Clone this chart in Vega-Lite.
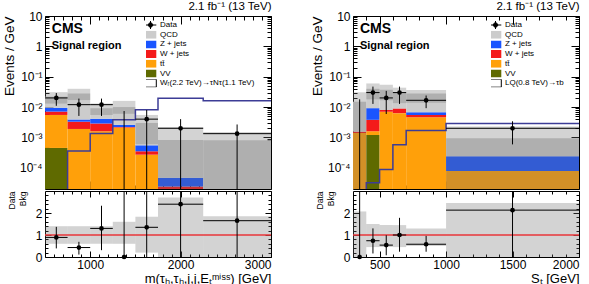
{
  "$schema": "https://vega.github.io/schema/vega-lite/v6.json",
  "padding": {"left": 1, "top": 0, "right": 0, "bottom": 0},
  "background": "white",
  "config": {
    "font": "Liberation Sans",
    "view": {"stroke": "black", "strokeWidth": 1},
    "axis": {"domain": false, "grid": false, "tickColor": "black", "tickSize": -8, "tickWidth": 1, "labelColor": "black", "labelFontSize": 12, "titleColor": "black", "titleFontWeight": "normal", "titleFontSize": 13, "labelPadding": 11},
    "title": {"color": "black", "fontWeight": "normal"}
  },
  "datasets": {
    "stackL": [
      {"x0": 500, "x1": 750, "proc": "VV", "lo": 1e-6, "hi": 4.5e-4},
      {"x0": 500, "x1": 750, "proc": "tt̄", "lo": 4.5e-4, "hi": 5.5e-3},
      {"x0": 500, "x1": 750, "proc": "W + jets", "lo": 5.5e-3, "hi": 7.1e-3},
      {"x0": 500, "x1": 750, "proc": "Z + jets", "lo": 7.1e-3, "hi": 9.5e-3},
      {"x0": 500, "x1": 750, "proc": "QCD", "lo": 9.5e-3, "hi": 2.2e-2},
      {"x0": 750, "x1": 1000, "proc": "tt̄", "lo": 1e-6, "hi": 1.9e-3},
      {"x0": 750, "x1": 1000, "proc": "W + jets", "lo": 1.9e-3, "hi": 3.3e-3},
      {"x0": 750, "x1": 1000, "proc": "Z + jets", "lo": 3.3e-3, "hi": 3.9e-3},
      {"x0": 750, "x1": 1000, "proc": "QCD", "lo": 3.9e-3, "hi": 2.8e-2},
      {"x0": 1000, "x1": 1250, "proc": "tt̄", "lo": 1e-6, "hi": 1.6e-3},
      {"x0": 1000, "x1": 1250, "proc": "W + jets", "lo": 1.6e-3, "hi": 2.9e-3},
      {"x0": 1000, "x1": 1250, "proc": "Z + jets", "lo": 2.9e-3, "hi": 4.1e-3},
      {"x0": 1000, "x1": 1250, "proc": "QCD", "lo": 4.1e-3, "hi": 9.2e-3},
      {"x0": 1250, "x1": 1500, "proc": "tt̄", "lo": 1e-6, "hi": 2.1e-3},
      {"x0": 1250, "x1": 1500, "proc": "W + jets", "lo": 2.1e-3, "hi": 2.2e-3},
      {"x0": 1250, "x1": 1500, "proc": "Z + jets", "lo": 2.2e-3, "hi": 2.6e-3},
      {"x0": 1250, "x1": 1500, "proc": "QCD", "lo": 2.6e-3, "hi": 1e-2},
      {"x0": 1500, "x1": 1750, "proc": "tt̄", "lo": 1e-6, "hi": 2.7e-4},
      {"x0": 1500, "x1": 1750, "proc": "W + jets", "lo": 2.7e-4, "hi": 3.5e-4},
      {"x0": 1500, "x1": 1750, "proc": "Z + jets", "lo": 3.5e-4, "hi": 5.5e-4},
      {"x0": 1500, "x1": 1750, "proc": "QCD", "lo": 5.5e-4, "hi": 3e-3},
      {"x0": 1750, "x1": 2250, "proc": "W + jets", "lo": 1e-6, "hi": 2.4e-5},
      {"x0": 1750, "x1": 2250, "proc": "Z + jets", "lo": 2.4e-5, "hi": 4.7e-5},
      {"x0": 1750, "x1": 2250, "proc": "QCD", "lo": 4.7e-5, "hi": 8.2e-4},
      {"x0": 2250, "x1": 3000, "proc": "QCD", "lo": 1e-6, "hi": 8e-4}
    ],
    "bandL": [
      {"x0": 500, "x1": 750, "lo": 1.3e-2, "hi": 3.1e-2},
      {"x0": 750, "x1": 1000, "lo": 1.7e-2, "hi": 4e-2},
      {"x0": 1000, "x1": 1250, "lo": 5.5e-3, "hi": 1.3e-2},
      {"x0": 1250, "x1": 1500, "lo": 6e-3, "hi": 1.6e-2},
      {"x0": 1500, "x1": 1750, "lo": 6e-4, "hi": 5.5e-3},
      {"x0": 1750, "x1": 2250, "lo": 1e-6, "hi": 2.2e-3},
      {"x0": 2250, "x1": 3000, "lo": 1e-6, "hi": 1.5e-3}
    ],
    "sigL": [
      {"x": 500, "y": 1e-6}, {"x": 750, "y": 3.6e-4}, {"x": 1000, "y": 1.35e-3},
      {"x": 1250, "y": 3.8e-3}, {"x": 1500, "y": 8.1e-3}, {"x": 1750, "y": 1.95e-2},
      {"x": 2250, "y": 1.6e-2}, {"x": 3000, "y": 1.6e-2}
    ],
    "dataL": [
      {"x": 625, "x0": 500, "x1": 750, "y": 0.02, "lo": 0.011, "hi": 0.029},
      {"x": 875, "x0": 750, "x1": 1000, "y": 0.012, "lo": 0.0051, "hi": 0.019},
      {"x": 1125, "x0": 1000, "x1": 1250, "y": 0.012, "lo": 0.0051, "hi": 0.019},
      {"x": 1375, "x0": null, "x1": null, "y": null, "lo": 1e-6, "hi": 0.0074},
      {"x": 1625, "x0": 1500, "x1": 1750, "y": 0.004, "lo": 1e-6, "hi": 0.008},
      {"x": 2000, "x0": 1750, "x1": 2250, "y": 0.002, "lo": 1e-6, "hi": 0.004},
      {"x": 2625, "x0": 2250, "x1": 3000, "y": 0.00133, "lo": 1e-6, "hi": 0.00267}
    ],
    "ratioL": [
      {"x": 625, "x0": 500, "x1": 750, "r": 0.89, "lo": 0.39, "hi": 1.37},
      {"x": 875, "x0": 750, "x1": 1000, "r": 0.43, "lo": 0.11, "hi": 0.69},
      {"x": 1125, "x0": 1000, "x1": 1250, "r": 1.3, "lo": 0.31, "hi": 2.33},
      {"x": 1375, "x0": null, "x1": null, "r": 0, "lo": 0, "hi": 3.5},
      {"x": 1625, "x0": 1500, "x1": 1750, "r": 1.35, "lo": 0, "hi": 3.5},
      {"x": 2000, "x0": 1750, "x1": 2250, "r": 2.4, "lo": 0, "hi": 3.5},
      {"x": 2625, "x0": 2250, "x1": 3000, "r": 1.65, "lo": 0, "hi": 3.5}
    ],
    "rbandL": [
      {"x0": 500, "x1": 750, "lo": 0.6, "hi": 1.4},
      {"x0": 750, "x1": 1000, "lo": 0.6, "hi": 1.4},
      {"x0": 1000, "x1": 1250, "lo": 0.6, "hi": 1.4},
      {"x0": 1250, "x1": 1500, "lo": 0.6, "hi": 1.6},
      {"x0": 1500, "x1": 1750, "lo": 0.2, "hi": 1.83},
      {"x0": 1750, "x1": 2250, "lo": 0, "hi": 2.7},
      {"x0": 2250, "x1": 3000, "lo": 0, "hi": 1.85}
    ],
    "stackR": [
      {"x0": 300, "x1": 400, "proc": "tt̄", "lo": 1e-6, "hi": 1.4e-3},
      {"x0": 300, "x1": 400, "proc": "W + jets", "lo": 1.4e-3, "hi": 1.55e-3},
      {"x0": 300, "x1": 400, "proc": "QCD", "lo": 1.55e-3, "hi": 1.5e-2},
      {"x0": 400, "x1": 500, "proc": "VV", "lo": 1e-6, "hi": 1.2e-3},
      {"x0": 400, "x1": 500, "proc": "tt̄", "lo": 1.2e-3, "hi": 1.6e-3},
      {"x0": 400, "x1": 500, "proc": "W + jets", "lo": 1.6e-3, "hi": 3.8e-3},
      {"x0": 400, "x1": 500, "proc": "Z + jets", "lo": 3.8e-3, "hi": 9.2e-3},
      {"x0": 400, "x1": 500, "proc": "QCD", "lo": 9.2e-3, "hi": 4e-2},
      {"x0": 500, "x1": 600, "proc": "tt̄", "lo": 1e-6, "hi": 7e-3},
      {"x0": 500, "x1": 600, "proc": "W + jets", "lo": 7e-3, "hi": 8e-3},
      {"x0": 500, "x1": 600, "proc": "QCD", "lo": 8e-3, "hi": 3.7e-2},
      {"x0": 600, "x1": 700, "proc": "tt̄", "lo": 1e-6, "hi": 6.3e-3},
      {"x0": 600, "x1": 700, "proc": "W + jets", "lo": 6.3e-3, "hi": 9e-3},
      {"x0": 600, "x1": 700, "proc": "QCD", "lo": 9e-3, "hi": 3e-2},
      {"x0": 700, "x1": 1000, "proc": "tt̄", "lo": 1e-6, "hi": 4.6e-3},
      {"x0": 700, "x1": 1000, "proc": "W + jets", "lo": 4.6e-3, "hi": 5.5e-3},
      {"x0": 700, "x1": 1000, "proc": "Z + jets", "lo": 5.5e-3, "hi": 6.7e-3},
      {"x0": 700, "x1": 1000, "proc": "QCD", "lo": 6.7e-3, "hi": 2.8e-2},
      {"x0": 1000, "x1": 2000, "proc": "tt̄", "lo": 1e-6, "hi": 7.8e-5},
      {"x0": 1000, "x1": 2000, "proc": "Z + jets", "lo": 7.8e-5, "hi": 2.4e-4},
      {"x0": 1000, "x1": 2000, "proc": "QCD", "lo": 2.4e-4, "hi": 9.4e-4}
    ],
    "bandR": [
      {"x0": 300, "x1": 400, "lo": 1e-6, "hi": 3.1e-2},
      {"x0": 400, "x1": 500, "lo": 1.8e-2, "hi": 6e-2},
      {"x0": 500, "x1": 600, "lo": 1.67e-2, "hi": 5.4e-2},
      {"x0": 600, "x1": 700, "lo": 1.35e-2, "hi": 4.35e-2},
      {"x0": 700, "x1": 1000, "lo": 1.4e-2, "hi": 3.64e-2},
      {"x0": 1000, "x1": 2000, "lo": 1e-6, "hi": 2.3e-3}
    ],
    "sigR": [
      {"x": 300, "y": 1e-6}, {"x": 400, "y": 3.2e-5}, {"x": 500, "y": 8.7e-5},
      {"x": 600, "y": 5.7e-4}, {"x": 700, "y": 1.7e-3}, {"x": 1000, "y": 2.9e-3},
      {"x": 2000, "y": 2.9e-3}
    ],
    "dataR": [
      {"x": 350, "x0": null, "x1": null, "y": null, "lo": 1e-6, "hi": 0.018},
      {"x": 450, "x0": 400, "x1": 500, "y": 0.03, "lo": 0.0127, "hi": 0.0473},
      {"x": 550, "x0": 500, "x1": 600, "y": 0.02, "lo": 0.0059, "hi": 0.0341},
      {"x": 650, "x0": 600, "x1": 700, "y": 0.03, "lo": 0.0127, "hi": 0.0473},
      {"x": 850, "x0": 700, "x1": 1000, "y": 0.0167, "lo": 0.0092, "hi": 0.024},
      {"x": 1500, "x0": 1000, "x1": 2000, "y": 0.002, "lo": 0.00059, "hi": 0.0034}
    ],
    "ratioR": [
      {"x": 350, "x0": null, "x1": null, "r": 0, "lo": 0, "hi": 3.5},
      {"x": 450, "x0": 400, "x1": 500, "r": 0.74, "lo": 0.16, "hi": 1.3},
      {"x": 550, "x0": 500, "x1": 600, "r": 0.54, "lo": 0.08, "hi": 0.99},
      {"x": 650, "x0": 600, "x1": 700, "r": 1.0, "lo": 0.24, "hi": 1.78},
      {"x": 850, "x0": 700, "x1": 1000, "r": 0.58, "lo": 0.24, "hi": 0.96},
      {"x": 1500, "x0": 1000, "x1": 2000, "r": 2.13, "lo": 0, "hi": 3.5}
    ],
    "rbandR": [
      {"x0": 300, "x1": 400, "lo": 0, "hi": 2.07},
      {"x0": 400, "x1": 500, "lo": 0.45, "hi": 1.5},
      {"x0": 500, "x1": 600, "lo": 0.45, "hi": 1.45},
      {"x0": 600, "x1": 700, "lo": 0.45, "hi": 1.45},
      {"x0": 700, "x1": 1000, "lo": 0.5, "hi": 1.3},
      {"x0": 1000, "x1": 2000, "lo": 0, "hi": 2.45}
    ]
  },
  "hconcat": [
    {
      "spacing": 0,
      "vconcat": [
        {
          "width": 226, "height": 173,
          "title": {"text": "2.1 fb⁻¹ (13 TeV)", "anchor": "end", "fontSize": 11.5, "offset": -2},
          "resolve": {"axis": {"x": "independent", "y": "independent"}},
          "layer": [
            {
              "data": {"name": "stackL"},
              "mark": {"type": "rect", "clip": true},
              "encoding": {
                "x": {"field": "x0", "type": "quantitative", "scale": {"domain": [500, 3000], "nice": false, "zero": false}, "axis": {"orient": "bottom", "values": [1000, 2000, 3000], "labels": false, "title": null}},
                "x2": {"field": "x1"},
                "y": {"field": "lo", "type": "quantitative", "scale": {"type": "log", "domain": [2e-5, 10], "nice": false}, "axis": {"orient": "left", "values": [0.0001, 0.001, 0.01, 0.1, 1, 10], "labelExpr": "datum.value > 5 ? '10' : datum.value > 0.5 ? '1' : datum.value > 0.05 ? '10⁻¹' : datum.value > 0.005 ? '10⁻²' : datum.value > 0.0005 ? '10⁻³' : '10⁻⁴'", "title": "Events / GeV", "titleAnchor": "end", "titleFontSize": 13.5, "titlePadding": 3}},
                "y2": {"field": "hi"},
                "color": {
                  "field": "proc", "type": "nominal",
                  "scale": {"domain": ["Data", "QCD", "Z + jets", "W + jets", "tt̄", "VV", "Wᵣ(2.2 TeV)→τNτ(1.1 TeV)"], "range": ["black", "#cccccc", "#1a55ff", "#f41a1a", "#ffa00a", "#5f6a00", "white"]},
                  "legend": {
                    "orient": "none", "legendX": 101, "legendY": 5, "title": null, "direction": "vertical",
                    "labelFontSize": 8, "labelOffset": 5, "symbolSize": 64, "rowPadding": 1.7, "clipHeight": 8, "symbolStrokeWidth": 1,
                    "encode": {"symbols": {"update": {
                      "shape": {"signal": "datum.index === 0 ? 'M-1.45,0H1.45M0,-1V1M0.55,0A0.55,0.55,0,1,1,-0.55,0A0.55,0.55,0,1,1,0.55,0' : 'M-1.45,-1H1.45V1H-1.45Z'"},
                      "stroke": {"signal": "datum.index === 0 || datum.index === 6 ? 'black' : 'transparent'"},
                      "strokeWidth": {"value": 1}
                    }}}
                  }
                }
              }
            },
            {
              "data": {"name": "bandL"},
              "mark": {"type": "rect", "clip": true, "color": "#6e6e6e", "opacity": 0.3},
              "encoding": {
                "x": {"field": "x0", "type": "quantitative", "axis": {"orient": "top", "values": [1000, 2000, 3000], "labels": false, "title": null}},
                "x2": {"field": "x1"},
                "y": {"field": "lo", "type": "quantitative", "axis": {"orient": "right", "values": [0.0001, 0.001, 0.01, 0.1, 1, 10], "labels": false, "title": null}},
                "y2": {"field": "hi"}
              }
            },
            {
              "data": {"name": "sigL"},
              "mark": {"type": "line", "interpolate": "step-after", "clip": true, "color": "#3c3c96", "strokeWidth": 1.5},
              "encoding": {
                "x": {"field": "x", "type": "quantitative", "axis": {"orient": "bottom", "values": [600, 700, 800, 900, 1100, 1200, 1300, 1400, 1500, 1600, 1700, 1800, 1900, 2100, 2200, 2300, 2400, 2500, 2600, 2700, 2800, 2900], "labels": false, "title": null, "tickSize": -4}},
                "y": {"field": "y", "type": "quantitative", "axis": {"orient": "left", "values": [3e-5, 4e-5, 5e-5, 6e-5, 7e-5, 8e-5, 9e-5, 2e-4, 3e-4, 4e-4, 5e-4, 6e-4, 7e-4, 8e-4, 9e-4, 2e-3, 3e-3, 4e-3, 5e-3, 6e-3, 7e-3, 8e-3, 9e-3, 0.02, 0.03, 0.04, 0.05, 0.06, 0.07, 0.08, 0.09, 0.2, 0.3, 0.4, 0.5, 0.6, 0.7, 0.8, 0.9, 2, 3, 4, 5, 6, 7, 8, 9], "labels": false, "title": null, "tickSize": -4}}
              }
            },
            {
              "data": {"name": "dataL"},
              "mark": {"type": "rule", "clip": true, "color": "black", "strokeWidth": 1},
              "encoding": {
                "x": {"field": "x", "type": "quantitative", "axis": {"orient": "top", "values": [600, 700, 800, 900, 1100, 1200, 1300, 1400, 1500, 1600, 1700, 1800, 1900, 2100, 2200, 2300, 2400, 2500, 2600, 2700, 2800, 2900], "labels": false, "title": null, "tickSize": -4}},
                "y": {"field": "lo", "type": "quantitative", "axis": {"orient": "right", "values": [3e-5, 4e-5, 5e-5, 6e-5, 7e-5, 8e-5, 9e-5, 2e-4, 3e-4, 4e-4, 5e-4, 6e-4, 7e-4, 8e-4, 9e-4, 2e-3, 3e-3, 4e-3, 5e-3, 6e-3, 7e-3, 8e-3, 9e-3, 0.02, 0.03, 0.04, 0.05, 0.06, 0.07, 0.08, 0.09, 0.2, 0.3, 0.4, 0.5, 0.6, 0.7, 0.8, 0.9, 2, 3, 4, 5, 6, 7, 8, 9], "labels": false, "title": null, "tickSize": -4}},
                "y2": {"field": "hi"}
              }
            },
            {
              "data": {"name": "dataL"},
              "mark": {"type": "rule", "clip": true, "color": "black", "strokeWidth": 1},
              "encoding": {"x": {"field": "x0", "type": "quantitative", "axis": null}, "x2": {"field": "x1"}, "y": {"field": "y", "type": "quantitative", "axis": null}}
            },
            {
              "data": {"name": "dataL"},
              "mark": {"type": "point", "shape": "circle", "filled": true, "color": "black", "size": 22, "opacity": 1},
              "encoding": {"x": {"field": "x", "type": "quantitative", "axis": null}, "y": {"field": "y", "type": "quantitative", "axis": null}}
            },
            {
              "data": {"values": [{}]},
              "mark": {"type": "text", "text": "CMS", "fontWeight": "bold", "fontSize": 14, "align": "left", "baseline": "middle", "color": "black"},
              "encoding": {"x": {"datum": 575, "axis": null}, "y": {"datum": 3.7, "axis": null}}
            },
            {
              "data": {"values": [{}]},
              "mark": {"type": "text", "text": "Signal region", "fontWeight": "bold", "fontSize": 11, "align": "left", "baseline": "middle", "color": "black"},
              "encoding": {"x": {"datum": 575, "axis": null}, "y": {"datum": 1.0, "axis": null}}
            }
          ]
        },
        {
          "width": 226, "height": 66,
          "resolve": {"axis": {"x": "independent", "y": "independent"}},
          "layer": [
            {
              "data": {"name": "rbandL"},
              "mark": {"type": "rect", "clip": true, "color": "#6e6e6e", "opacity": 0.3},
              "encoding": {
                "x": {"field": "x0", "type": "quantitative", "scale": {"domain": [500, 3000], "nice": false, "zero": false}, "axis": {"orient": "bottom", "values": [1000, 2000, 3000], "format": "d", "title": "m(τₕ,τₕ,j,j,Eₜᵐⁱˢˢ) [GeV]", "titleAnchor": "end", "titleFontSize": 13, "titlePadding": 2, "tickSize": -6, "labelPadding": 8}},
                "x2": {"field": "x1"},
                "y": {"field": "lo", "type": "quantitative", "scale": {"domain": [0, 3], "nice": false}, "axis": {"orient": "left", "values": [0, 1, 2], "title": ["Data", "Bkg"], "titleFontSize": 8.5, "titleAnchor": "end", "titlePadding": 8, "tickSize": -6, "labelPadding": 9}},
                "y2": {"field": "hi"}
              }
            },
            {
              "data": {"values": [{}]},
              "mark": {"type": "rule", "color": "#e8363a", "strokeWidth": 1.5},
              "encoding": {"y": {"datum": 1, "axis": null}}
            },
            {
              "data": {"name": "ratioL"},
              "mark": {"type": "rule", "clip": true, "color": "black", "strokeWidth": 1},
              "encoding": {
                "x": {"field": "x", "type": "quantitative", "axis": {"orient": "top", "values": [1000, 2000, 3000], "labels": false, "title": null, "tickSize": -6}},
                "y": {"field": "lo", "type": "quantitative", "axis": {"orient": "right", "values": [0, 1, 2], "labels": false, "title": null, "tickSize": -6}},
                "y2": {"field": "hi"}
              }
            },
            {
              "data": {"name": "ratioL"},
              "mark": {"type": "rule", "clip": true, "color": "black", "strokeWidth": 1},
              "encoding": {
                "x": {"field": "x0", "type": "quantitative", "axis": {"orient": "bottom", "values": [600, 700, 800, 900, 1100, 1200, 1300, 1400, 1500, 1600, 1700, 1800, 1900, 2100, 2200, 2300, 2400, 2500, 2600, 2700, 2800, 2900], "labels": false, "title": null, "tickSize": -3}},
                "x2": {"field": "x1"},
                "y": {"field": "r", "type": "quantitative", "axis": {"orient": "left", "values": [0.2, 0.4, 0.6, 0.8, 1.2, 1.4, 1.6, 1.8, 2.2, 2.4, 2.6, 2.8], "labels": false, "title": null, "tickSize": -3}}
              }
            },
            {
              "data": {"name": "ratioL"},
              "mark": {"type": "point", "shape": "circle", "filled": true, "color": "black", "size": 22, "opacity": 1},
              "encoding": {
                "x": {"field": "x", "type": "quantitative", "axis": {"orient": "top", "values": [600, 700, 800, 900, 1100, 1200, 1300, 1400, 1500, 1600, 1700, 1800, 1900, 2100, 2200, 2300, 2400, 2500, 2600, 2700, 2800, 2900], "labels": false, "title": null, "tickSize": -3}},
                "y": {"field": "r", "type": "quantitative", "axis": {"orient": "right", "values": [0.2, 0.4, 0.6, 0.8, 1.2, 1.4, 1.6, 1.8, 2.2, 2.4, 2.6, 2.8], "labels": false, "title": null, "tickSize": -3}}
              }
            }
          ]
        }
      ]
    },
    {
      "spacing": 0,
      "vconcat": [
        {
          "width": 226, "height": 173,
          "title": {"text": "2.1 fb⁻¹ (13 TeV)", "anchor": "end", "fontSize": 11.5, "offset": -2},
          "resolve": {"axis": {"x": "independent", "y": "independent"}},
          "layer": [
            {
              "data": {"name": "stackR"},
              "mark": {"type": "rect", "clip": true},
              "encoding": {
                "x": {"field": "x0", "type": "quantitative", "scale": {"domain": [300, 2000], "nice": false, "zero": false}, "axis": {"orient": "bottom", "values": [500, 1000, 1500, 2000], "labels": false, "title": null}},
                "x2": {"field": "x1"},
                "y": {"field": "lo", "type": "quantitative", "scale": {"type": "log", "domain": [2e-5, 10], "nice": false}, "axis": {"orient": "left", "values": [0.0001, 0.001, 0.01, 0.1, 1, 10], "labelExpr": "datum.value > 5 ? '10' : datum.value > 0.5 ? '1' : datum.value > 0.05 ? '10⁻¹' : datum.value > 0.005 ? '10⁻²' : datum.value > 0.0005 ? '10⁻³' : '10⁻⁴'", "title": "Events / GeV", "titleAnchor": "end", "titleFontSize": 13.5, "titlePadding": 3}},
                "y2": {"field": "hi"},
                "color": {
                  "field": "proc", "type": "nominal",
                  "scale": {"domain": ["Data", "QCD", "Z + jets", "W + jets", "tt̄", "VV", "LQ(0.8 TeV)→τb"], "range": ["black", "#cccccc", "#1a55ff", "#f41a1a", "#ffa00a", "#5f6a00", "white"]},
                  "legend": {
                    "orient": "none", "legendX": 138, "legendY": 5, "title": null, "direction": "vertical",
                    "labelFontSize": 8, "labelOffset": 5, "symbolSize": 64, "rowPadding": 1.7, "clipHeight": 8, "symbolStrokeWidth": 1,
                    "encode": {"symbols": {"update": {
                      "shape": {"signal": "datum.index === 0 ? 'M-1.45,0H1.45M0,-1V1M0.55,0A0.55,0.55,0,1,1,-0.55,0A0.55,0.55,0,1,1,0.55,0' : 'M-1.45,-1H1.45V1H-1.45Z'"},
                      "stroke": {"signal": "datum.index === 0 || datum.index === 6 ? 'black' : 'transparent'"},
                      "strokeWidth": {"value": 1}
                    }}}
                  }
                }
              }
            },
            {
              "data": {"name": "bandR"},
              "mark": {"type": "rect", "clip": true, "color": "#6e6e6e", "opacity": 0.3},
              "encoding": {
                "x": {"field": "x0", "type": "quantitative", "axis": {"orient": "top", "values": [500, 1000, 1500, 2000], "labels": false, "title": null}},
                "x2": {"field": "x1"},
                "y": {"field": "lo", "type": "quantitative", "axis": {"orient": "right", "values": [0.0001, 0.001, 0.01, 0.1, 1, 10], "labels": false, "title": null}},
                "y2": {"field": "hi"}
              }
            },
            {
              "data": {"name": "sigR"},
              "mark": {"type": "line", "interpolate": "step-after", "clip": true, "color": "#3c3c96", "strokeWidth": 1.5},
              "encoding": {
                "x": {"field": "x", "type": "quantitative", "axis": {"orient": "bottom", "values": [400, 600, 700, 800, 900, 1100, 1200, 1300, 1400, 1600, 1700, 1800, 1900], "labels": false, "title": null, "tickSize": -4}},
                "y": {"field": "y", "type": "quantitative", "axis": {"orient": "left", "values": [3e-5, 4e-5, 5e-5, 6e-5, 7e-5, 8e-5, 9e-5, 2e-4, 3e-4, 4e-4, 5e-4, 6e-4, 7e-4, 8e-4, 9e-4, 2e-3, 3e-3, 4e-3, 5e-3, 6e-3, 7e-3, 8e-3, 9e-3, 0.02, 0.03, 0.04, 0.05, 0.06, 0.07, 0.08, 0.09, 0.2, 0.3, 0.4, 0.5, 0.6, 0.7, 0.8, 0.9, 2, 3, 4, 5, 6, 7, 8, 9], "labels": false, "title": null, "tickSize": -4}}
              }
            },
            {
              "data": {"name": "dataR"},
              "mark": {"type": "rule", "clip": true, "color": "black", "strokeWidth": 1},
              "encoding": {
                "x": {"field": "x", "type": "quantitative", "axis": {"orient": "top", "values": [400, 600, 700, 800, 900, 1100, 1200, 1300, 1400, 1600, 1700, 1800, 1900], "labels": false, "title": null, "tickSize": -4}},
                "y": {"field": "lo", "type": "quantitative", "axis": {"orient": "right", "values": [3e-5, 4e-5, 5e-5, 6e-5, 7e-5, 8e-5, 9e-5, 2e-4, 3e-4, 4e-4, 5e-4, 6e-4, 7e-4, 8e-4, 9e-4, 2e-3, 3e-3, 4e-3, 5e-3, 6e-3, 7e-3, 8e-3, 9e-3, 0.02, 0.03, 0.04, 0.05, 0.06, 0.07, 0.08, 0.09, 0.2, 0.3, 0.4, 0.5, 0.6, 0.7, 0.8, 0.9, 2, 3, 4, 5, 6, 7, 8, 9], "labels": false, "title": null, "tickSize": -4}},
                "y2": {"field": "hi"}
              }
            },
            {
              "data": {"name": "dataR"},
              "mark": {"type": "rule", "clip": true, "color": "black", "strokeWidth": 1},
              "encoding": {"x": {"field": "x0", "type": "quantitative", "axis": null}, "x2": {"field": "x1"}, "y": {"field": "y", "type": "quantitative", "axis": null}}
            },
            {
              "data": {"name": "dataR"},
              "mark": {"type": "point", "shape": "circle", "filled": true, "color": "black", "size": 22, "opacity": 1},
              "encoding": {"x": {"field": "x", "type": "quantitative", "axis": null}, "y": {"field": "y", "type": "quantitative", "axis": null}}
            },
            {
              "data": {"values": [{}]},
              "mark": {"type": "text", "text": "CMS", "fontWeight": "bold", "fontSize": 14, "align": "left", "baseline": "middle", "color": "black"},
              "encoding": {"x": {"datum": 352, "axis": null}, "y": {"datum": 3.7, "axis": null}}
            },
            {
              "data": {"values": [{}]},
              "mark": {"type": "text", "text": "Signal region", "fontWeight": "bold", "fontSize": 11, "align": "left", "baseline": "middle", "color": "black"},
              "encoding": {"x": {"datum": 352, "axis": null}, "y": {"datum": 1.0, "axis": null}}
            }
          ]
        },
        {
          "width": 226, "height": 66,
          "resolve": {"axis": {"x": "independent", "y": "independent"}},
          "layer": [
            {
              "data": {"name": "rbandR"},
              "mark": {"type": "rect", "clip": true, "color": "#6e6e6e", "opacity": 0.3},
              "encoding": {
                "x": {"field": "x0", "type": "quantitative", "scale": {"domain": [300, 2000], "nice": false, "zero": false}, "axis": {"orient": "bottom", "values": [500, 1000, 1500, 2000], "format": "d", "title": "Sₜ [GeV]", "titleAnchor": "end", "titleFontSize": 13, "titlePadding": 2, "tickSize": -6, "labelPadding": 8}},
                "x2": {"field": "x1"},
                "y": {"field": "lo", "type": "quantitative", "scale": {"domain": [0, 3], "nice": false}, "axis": {"orient": "left", "values": [0, 1, 2], "title": ["Data", "Bkg"], "titleFontSize": 8.5, "titleAnchor": "end", "titlePadding": 8, "tickSize": -6, "labelPadding": 9}},
                "y2": {"field": "hi"}
              }
            },
            {
              "data": {"values": [{}]},
              "mark": {"type": "rule", "color": "#e8363a", "strokeWidth": 1.5},
              "encoding": {"y": {"datum": 1, "axis": null}}
            },
            {
              "data": {"name": "ratioR"},
              "mark": {"type": "rule", "clip": true, "color": "black", "strokeWidth": 1},
              "encoding": {
                "x": {"field": "x", "type": "quantitative", "axis": {"orient": "top", "values": [500, 1000, 1500, 2000], "labels": false, "title": null, "tickSize": -6}},
                "y": {"field": "lo", "type": "quantitative", "axis": {"orient": "right", "values": [0, 1, 2], "labels": false, "title": null, "tickSize": -6}},
                "y2": {"field": "hi"}
              }
            },
            {
              "data": {"name": "ratioR"},
              "mark": {"type": "rule", "clip": true, "color": "black", "strokeWidth": 1},
              "encoding": {
                "x": {"field": "x0", "type": "quantitative", "axis": {"orient": "bottom", "values": [400, 600, 700, 800, 900, 1100, 1200, 1300, 1400, 1600, 1700, 1800, 1900], "labels": false, "title": null, "tickSize": -3}},
                "x2": {"field": "x1"},
                "y": {"field": "r", "type": "quantitative", "axis": {"orient": "left", "values": [0.2, 0.4, 0.6, 0.8, 1.2, 1.4, 1.6, 1.8, 2.2, 2.4, 2.6, 2.8], "labels": false, "title": null, "tickSize": -3}}
              }
            },
            {
              "data": {"name": "ratioR"},
              "mark": {"type": "point", "shape": "circle", "filled": true, "color": "black", "size": 22, "opacity": 1},
              "encoding": {
                "x": {"field": "x", "type": "quantitative", "axis": {"orient": "top", "values": [400, 600, 700, 800, 900, 1100, 1200, 1300, 1400, 1600, 1700, 1800, 1900], "labels": false, "title": null, "tickSize": -3}},
                "y": {"field": "r", "type": "quantitative", "axis": {"orient": "right", "values": [0.2, 0.4, 0.6, 0.8, 1.2, 1.4, 1.6, 1.8, 2.2, 2.4, 2.6, 2.8], "labels": false, "title": null, "tickSize": -3}}
              }
            }
          ]
        }
      ]
    }
  ],
  "spacing": 36,
  "resolve": {"scale": {"color": "independent"}, "legend": {"color": "independent"}}
}
